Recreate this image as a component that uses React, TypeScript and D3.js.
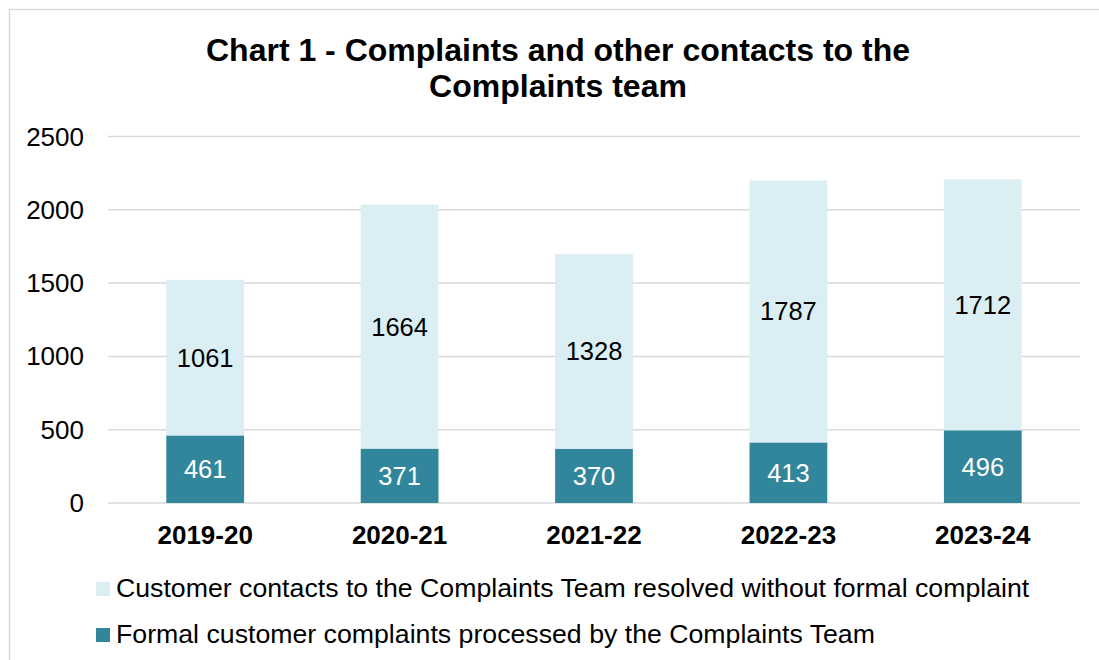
import React from 'react';
import { scaleBand, scaleLinear } from 'd3';

// values
const years = ['2019-20', '2020-21', '2021-22', '2022-23', '2023-24'];
const formal = [461, 371, 370, 413, 496];
const resolved = [1061, 1664, 1328, 1787, 1712];
const yTicks = [0, 500, 1000, 1500, 2000, 2500];
const legendLabels = [
  'Customer contacts to the Complaints Team resolved without formal complaint',
  'Formal customer complaints processed by the Complaints Team',
];

const width = 1099;
const height = 660;
const left = 108;
const right = 1080;
const top = 136.5;
const bottom = 503;

const darkColor = '#31869B';
const lightColor = '#DAEEF3';
const font = 'Arial, "Liberation Sans", sans-serif';

const App = () => {
  const xScale = scaleBand().domain(years).range([left, right]).paddingInner(0.6).paddingOuter(0.3);
  const yScale = scaleLinear().domain([0, 2500]).range([bottom, top]);

  return (
    <div style={{ position: 'absolute', left: 0, top: 0 }}>
      <svg width={width} height={height} style={{ display: 'block', fontFamily: font }}>
        <rect x={0} y={0} width={width} height={height} fill="#fff" />
        {/* chart border */}
        <rect x={9.5} y={9.5} width={width + 20} height={height + 20} fill="none" stroke="#D9D9D9" strokeWidth={1.5} />

        <text x={558} y={61} textAnchor="middle" fontSize={32} fontWeight="bold">
          Chart 1 - Complaints and other contacts to the
        </text>
        <text x={558} y={97} textAnchor="middle" fontSize={32} fontWeight="bold">
          Complaints team
        </text>

        {yTicks.map((t) => (
          <g key={t}>
            <line x1={left} x2={right} y1={yScale(t)} y2={yScale(t)} stroke="#D9D9D9" strokeWidth={1.5} />
            <text x={84} y={yScale(t) + 9} textAnchor="end" fontSize={26}>
              {t}
            </text>
          </g>
        ))}

        {years.map((y, i) => {
          const x = xScale(y) as number;
          const bw = xScale.bandwidth();
          const cx = x + bw / 2;
          const y0 = yScale(0);
          const y1 = yScale(formal[i]);
          const y2 = yScale(formal[i] + resolved[i]);
          return (
            <g key={y}>
              <rect x={x} y={y1} width={bw} height={y0 - y1} fill={darkColor} />
              <rect x={x} y={y2} width={bw} height={y1 - y2} fill={lightColor} />
              <text x={cx} y={(y0 + y1) / 2 + 9} textAnchor="middle" fontSize={25.5} fill="#fff">
                {formal[i]}
              </text>
              <text x={cx} y={(y1 + y2) / 2 + 9} textAnchor="middle" fontSize={25.5} fill="#000">
                {resolved[i]}
              </text>
              <text x={cx} y={544} textAnchor="middle" fontSize={26} fontWeight="bold">
                {y}
              </text>
            </g>
          );
        })}

        {legendLabels.map((label, i) => (
          <g key={label}>
            <rect x={96} y={582 + i * 46} width={14} height={14} fill={i === 0 ? lightColor : darkColor} />
            <text x={116} y={597 + i * 46} fontSize={26.7}>
              {label}
            </text>
          </g>
        ))}
      </svg>
    </div>
  );
};

export default App;
